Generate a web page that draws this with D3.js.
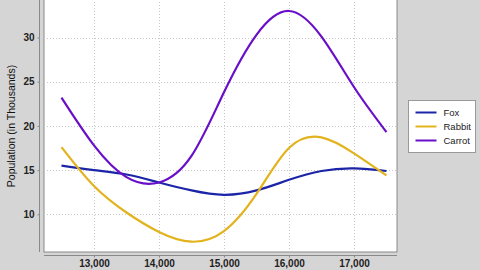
<!DOCTYPE html>
<html>
<head>
<meta charset="utf-8">
<script src="https://cdn.jsdelivr.net/npm/d3@7"></script>
<style>
  html, body { margin: 0; padding: 0; background: #d5d5d5; }
  svg { display: block; font-family: "Liberation Sans", Arial, sans-serif; }
</style>
</head>
<body>
<div id="chart"></div>
<script>
// x positions of the samples
const xValues = [12500, 13000, 13500, 14000, 14500, 15000, 15500, 16000, 16500, 17000, 17500];

// series values (thousands)
const foxValues    = [15.5, 15.0, 14.5, 13.6, 12.7, 12.2, 12.7, 13.9, 14.9, 15.2, 14.9];
const rabbitValues = [17.6, 13.2, 10.2, 8.0, 6.9, 8.1, 12.3, 17.5, 18.7, 16.9, 14.4];
const carrotValues = [23.2, 17.8, 14.2, 13.6, 16.6, 23.8, 30.3, 33.0, 30.1, 24.4, 19.3];

const seriesNames = ['Fox', 'Rabbit', 'Carrot'];
const seriesColors = ['#1c25a8', '#e2b31c', '#6a0fc8'];

const xTicks = [13000, 14000, 15000, 16000, 17000];
const yTicks = [10, 15, 20, 25, 30];

const W = 480, H = 270;
const plot = { left: 44, right: 397, top: -4, bottom: 252 };

const svg = d3.select('#chart').append('svg')
  .attr('width', W).attr('height', H);

const xScale = d3.scaleLinear()
  .domain([12231, 17662])
  .range([plot.left, plot.right]);

const yScale = d3.scaleLinear()
  .domain([10, 30])
  .range([214.3, 37.5]);

// plot background
svg.append('rect')
  .attr('x', plot.left).attr('y', plot.top)
  .attr('width', plot.right - plot.left)
  .attr('height', plot.bottom - plot.top)
  .attr('fill', '#fff')
  .attr('stroke', '#8a8a8a')
  .attr('stroke-width', 1);

// grid lines
const grid = svg.append('g').attr('stroke', '#c8c8c8').attr('stroke-dasharray', '1,2').attr('stroke-width', 1);
xTicks.forEach(t => {
  grid.append('line')
    .attr('x1', Math.round(xScale(t)) + 0.5).attr('x2', Math.round(xScale(t)) + 0.5)
    .attr('y1', plot.top).attr('y2', plot.bottom);
});
yTicks.forEach(t => {
  grid.append('line')
    .attr('x1', plot.left).attr('x2', plot.right)
    .attr('y1', Math.round(yScale(t)) + 0.5).attr('y2', Math.round(yScale(t)) + 0.5);
});

// axes, offset a bit from the plot like the original
const xAxis = d3.axisBottom(xScale)
  .tickValues(xTicks)
  .tickFormat(d3.format(','))
  .tickSizeInner(2).tickSizeOuter(0);
const xg = svg.append('g')
  .attr('transform', 'translate(0,255.5)')
  .call(xAxis);

const yAxis = d3.axisLeft(yScale)
  .tickValues(yTicks)
  .tickSizeInner(2).tickSizeOuter(0);
const yg = svg.append('g')
  .attr('transform', 'translate(39.5,0)')
  .call(yAxis);

[xg, yg].forEach(g => {
  g.select('.domain').attr('stroke', '#8a8a8a');
  g.selectAll('.tick line').attr('stroke', '#8a8a8a');
  g.selectAll('.tick text')
    .attr('fill', '#222')
    .style('font-size', '10px')
    .style('font-weight', 'bold');
});
xg.select('.domain').attr('d', `M${plot.left},0H${plot.right}`);
yg.select('.domain').attr('d', `M0,0V${plot.bottom}`);
xg.selectAll('.tick text').attr('y', 4);
yg.selectAll('.tick text').attr('x', -5);

// y axis title
svg.append('text')
  .attr('transform', `translate(15,${(plot.bottom) / 2}) rotate(-90)`)
  .attr('text-anchor', 'middle')
  .style('font-size', '10.5px')
  .attr('fill', '#111')
  .text('Population (in Thousands)');

// the lines
const lineGen = d3.line()
  .x(d => xScale(d.x))
  .y(d => yScale(d.y))
  .curve(d3.curveNatural);

const allSeries = [foxValues, rabbitValues, carrotValues];
allSeries.forEach((vals, i) => {
  const pts = xValues.map((x, j) => ({ x: x, y: vals[j] }));
  svg.append('path')
    .datum(pts)
    .attr('d', lineGen)
    .attr('fill', 'none')
    .attr('stroke', seriesColors[i])
    .attr('stroke-width', 2.2);
});

// legend
const legend = svg.append('g').attr('transform', 'translate(408.5,100.5)');
legend.append('rect')
  .attr('width', 67).attr('height', 52)
  .attr('fill', '#fff').attr('stroke', '#999');
seriesNames.forEach((name, i) => {
  const yy = 12 + i * 14;
  legend.append('line')
    .attr('x1', 7).attr('x2', 28)
    .attr('y1', yy).attr('y2', yy)
    .attr('stroke', seriesColors[i]).attr('stroke-width', 2);
  legend.append('text')
    .attr('x', 35).attr('y', yy + 3.5)
    .style('font-size', '9.5px')
    .attr('fill', '#222')
    .text(name);
});
</script>
</body>
</html>
